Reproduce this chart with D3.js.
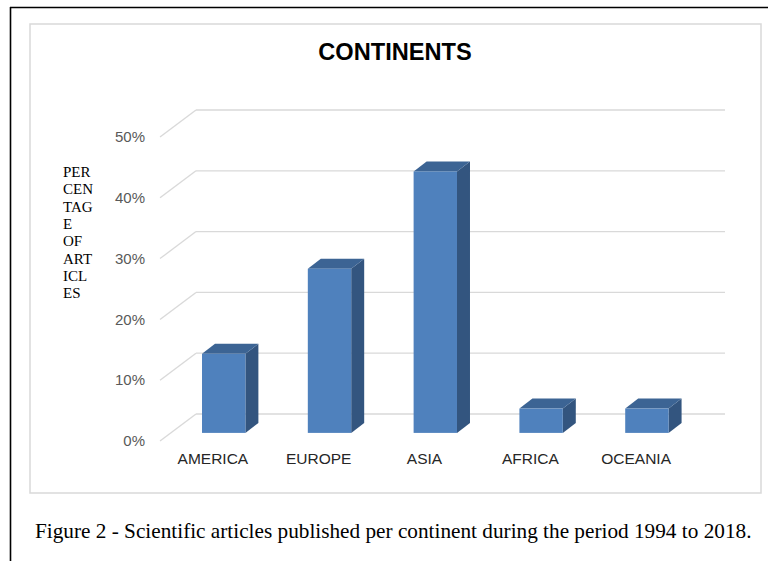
<!DOCTYPE html>
<html><head><meta charset="utf-8">
<script src="https://cdn.jsdelivr.net/npm/d3@7"></script>
<style>html,body{margin:0;padding:0;background:#fff;}svg{display:block;}</style>
</head><body>
<svg id="c" width="768" height="561"></svg>
<script>
const categories = ["AMERICA", "EUROPE", "ASIA", "AFRICA", "OCEANIA"];
const values = [13, 27, 43, 4, 4];
const yTicks = [0, 10, 20, 30, 40, 50];
const yTitleLines = ["PER", "CEN", "TAG", "E", "OF", "ART", "ICL", "ES"];
const chartTitle = "CONTINENTS";
const caption = "Figure 2 - Scientific articles published per continent during the period 1994 to 2018.";

const svg = d3.select("#c");
// outer frame
svg.append("line").attr("x1", 10).attr("x2", 768).attr("y1", 7.5).attr("y2", 7.5).attr("stroke", "#000").attr("stroke-width", 1.6);
svg.append("line").attr("x1", 10.5).attr("x2", 10.5).attr("y1", 7).attr("y2", 561).attr("stroke", "#000").attr("stroke-width", 1.6);
// chart area border
svg.append("rect").attr("x", 30).attr("y", 24).attr("width", 731).attr("height", 469).attr("fill", "#fff").attr("stroke", "#d9d9d9").attr("stroke-width", 1.5);

const x = d3.scaleBand().domain(categories).range([196, 725]).paddingInner(0.59).paddingOuter(0.295);
const y = d3.scaleLinear().domain([0, 50]).range([414, 110]);
const DX = 36, DY = 27; // depth of floor (back -> front)
const f = 0.7; // bar front depth fraction
const bfx = -DX * f, bfy = DY * f;
const sdx = 13, sdy = 10;

// gridlines
const g = svg.append("g");
yTicks.forEach(t => {
  g.append("line").attr("x1", 196).attr("x2", 725).attr("y1", y(t)).attr("y2", y(t)).attr("stroke", "#d9d9d9").attr("stroke-width", 1.3);
  g.append("line").attr("x1", 196 - DX).attr("x2", 196).attr("y1", y(t) + DY).attr("y2", y(t)).attr("stroke", "#d9d9d9").attr("stroke-width", 1.3);
  svg.append("text").attr("x", 145).attr("y", y(t) + DY).attr("dy", "0.35em").attr("text-anchor", "end")
    .attr("font-family", "Liberation Sans, Arial, sans-serif").attr("font-size", 15).attr("fill", "#595959").text(t + "%");
});

// bars
const bars = svg.append("g");
categories.forEach((c, i) => {
  const x0 = x(c) + bfx, x1 = x0 + x.bandwidth();
  const yb = y(0) + bfy, yt = y(values[i]) + bfy;
  bars.append("path").attr("d", `M${x1},${yt}L${x1 + sdx},${yt - sdy}L${x1 + sdx},${yb - sdy}L${x1},${yb}Z`).attr("fill", "#33557f");
  bars.append("path").attr("d", `M${x0},${yt}L${x0 + sdx},${yt - sdy}L${x1 + sdx},${yt - sdy}L${x1},${yt}Z`).attr("fill", "#3c6494");
  bars.append("rect").attr("x", x0).attr("y", yt).attr("width", x.bandwidth()).attr("height", yb - yt).attr("fill", "#4f81bd");
  svg.append("text").attr("x", x(c) + x.bandwidth() / 2 - DX).attr("y", 459).attr("dy", "0.35em").attr("text-anchor", "middle")
    .attr("font-family", "Liberation Sans, Arial, sans-serif").attr("font-size", 15.5).attr("fill", "#262626").text(c);
});

// title
svg.append("text").attr("x", 395).attr("y", 60).attr("text-anchor", "middle")
  .attr("font-family", "Liberation Sans, Arial, sans-serif").attr("font-size", 23.6).attr("font-weight", "bold").attr("fill", "#000").text(chartTitle);

// y title
const yt = svg.append("text").attr("font-family", "Liberation Serif, Times New Roman, serif").attr("font-size", 15).attr("fill", "#000");
yTitleLines.forEach((l, i) => yt.append("tspan").attr("x", 63).attr("y", 177 + i * 17.3).text(l));

// caption
const cap = svg.append("text").attr("x", 35).attr("y", 538)
  .attr("font-family", "Liberation Serif, Times New Roman, serif").attr("font-size", 20).attr("fill", "#000").text(caption);
const w = cap.node().getComputedTextLength();
cap.attr("font-size", 20 * 717 / w);
</script>
</body></html>
